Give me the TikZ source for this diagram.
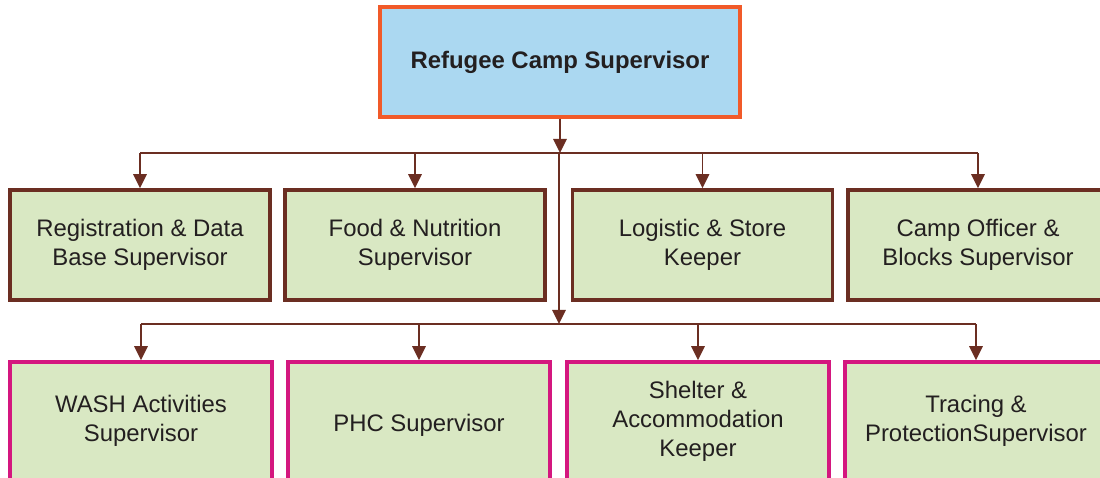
\documentclass[tikz,border=0pt]{standalone}
\usepackage{fontspec}
\setmainfont{Liberation Sans}
\usetikzlibrary{arrows.meta}

\definecolor{headfill}{HTML}{ABD8F1}
\definecolor{headline}{HTML}{F15A29}
\definecolor{boxfill}{HTML}{D9E8C3}
\definecolor{brownline}{HTML}{6B2E22}
\definecolor{pinkline}{HTML}{D4177F}
\definecolor{txt}{HTML}{231F20}

\tikzset{
  headbox/.style={draw=headline, fill=headfill, line width=2.4pt, minimum width=9cm, minimum height=2.75cm, font=\fontsize{17}{20.5}\selectfont\bfseries, text=txt},
  rowone/.style={draw=brownline, fill=boxfill, line width=2.5pt, minimum width=6.5cm, minimum height=2.75cm, align=center, font=\fontsize{17}{20.5}\selectfont, text=txt, execute at begin node={\rule{0pt}{19pt}}},
  rowtwo/.style={rowone, draw=pinkline, minimum width=6.55cm, minimum height=2.95cm, execute at begin node={\rule{0pt}{16pt}}},
  link/.style={draw=brownline, line width=1.4pt},
  linkarrow/.style={link, -{Triangle[length=10pt,width=9.5pt]}}
}

\begin{document}
\begin{tikzpicture}
	\useasboundingbox (0,0) rectangle (27.5,-11.95);
	\clip (0,0) rectangle (27.5,-11.95);

	\node[headbox] (head) at (14,-1.55) {Refugee Camp Supervisor};

	\foreach \i/\x/\t in {a/3.5/{Registration \& Data\\Base Supervisor}, b/10.375/{Food \& Nutrition\\Supervisor}, c/17.5625/{Logistic \& Store\\Keeper}, d/24.45/{Camp Officer \&\\Blocks Supervisor}}
		\node[rowone] (r1\i) at (\x,-6.125) {\t};

	\foreach \i/\x/\t in {a/3.525/{WASH Activities\\Supervisor}, b/10.475/{PHC Supervisor}, c/17.45/{Shelter \&\\Accommodation\\Keeper}, d/24.4/{Tracing \&\\ProtectionSupervisor}}
		\node[rowtwo] (r2\i) at (\x,-10.525) {\t};

	% the two buses
	\coordinate (bus1) at (13.975,-3.825);
	\coordinate (bus2) at (13.975,-8.1);

	\draw[linkarrow] (head.south) -- (head.south |- bus1);
	\draw[link] (r1a.north |- bus1) -- (r1d.north |- bus1);
	\foreach \i in {a,b,c,d}
		\draw[linkarrow] (r1\i.north |- bus1) -- (r1\i.north);

	\draw[linkarrow] (bus1) -- (bus2);
	\draw[link] (r2a.north |- bus2) -- (r2d.north |- bus2);
	\foreach \i in {a,b,c,d}
		\draw[linkarrow] (r2\i.north |- bus2) -- (r2\i.north);

\end{tikzpicture}
\end{document}
